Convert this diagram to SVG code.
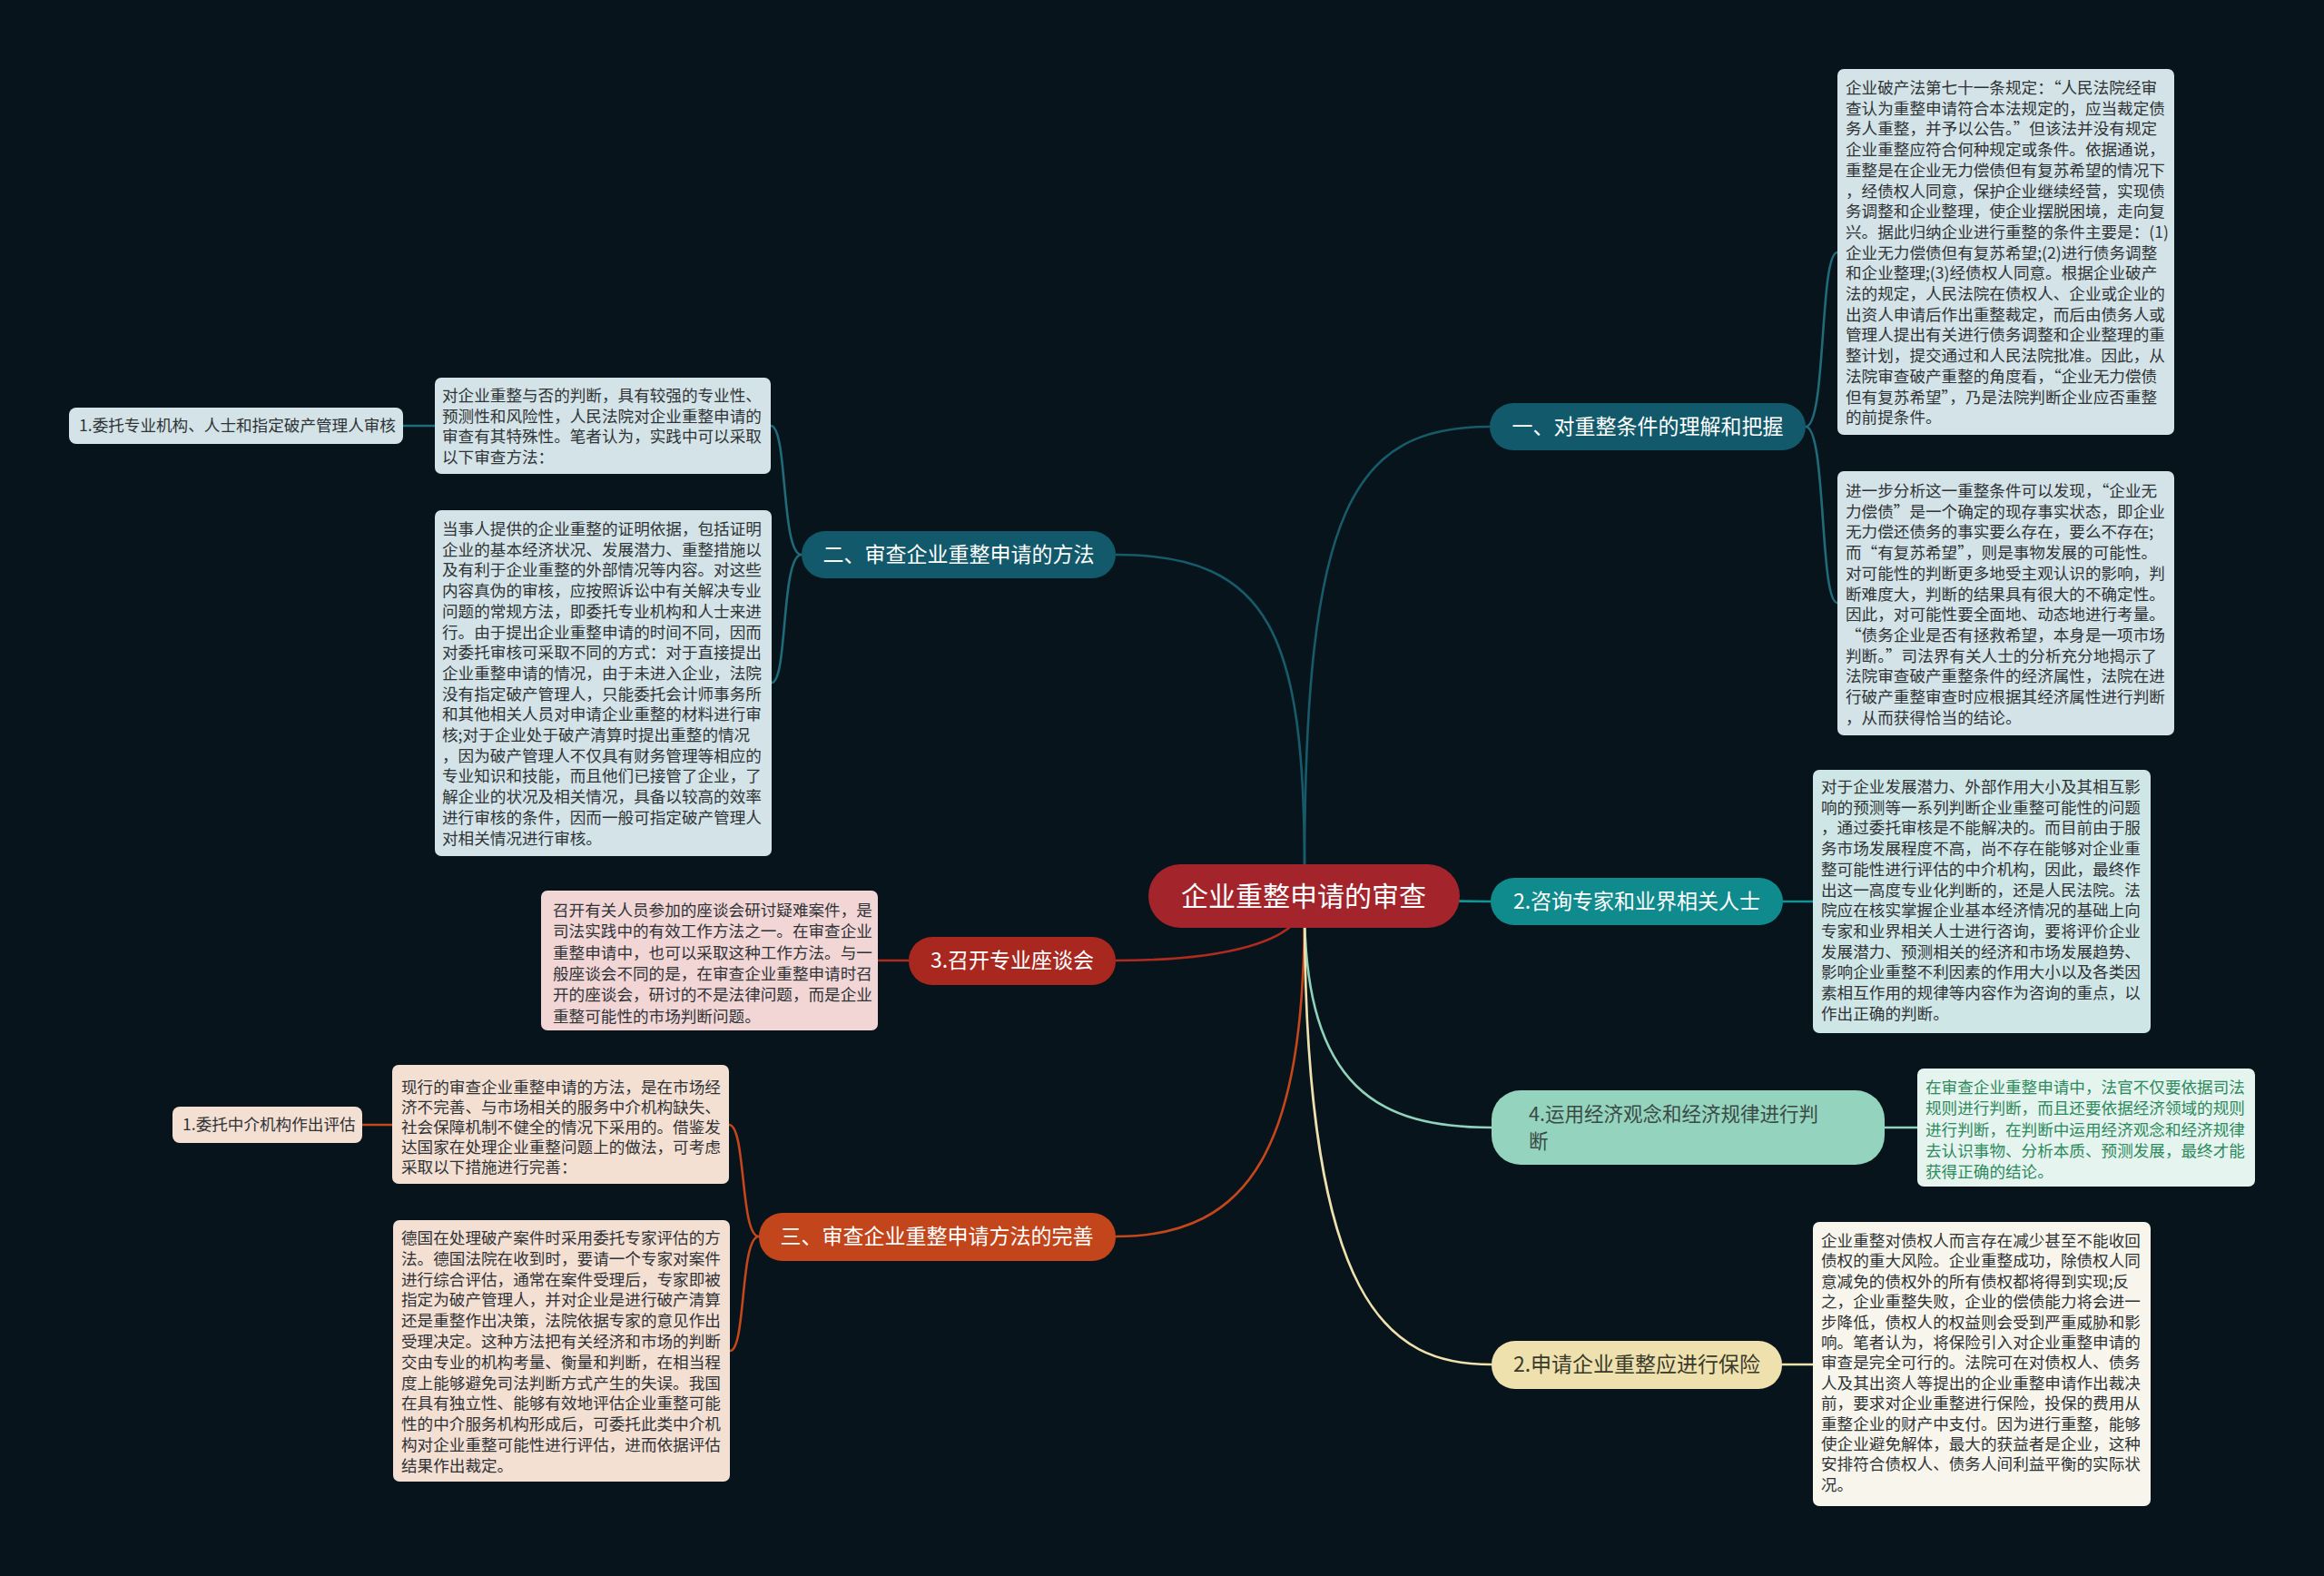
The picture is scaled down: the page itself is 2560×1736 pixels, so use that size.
<svg xmlns="http://www.w3.org/2000/svg" width="2560" height="1736" viewBox="0 0 2560 1736">
<style>
text{font-family:"Noto Sans CJK SC","Noto Sans",sans-serif}
.t{font-size:17.6px;fill:#2f3336}
.b{font-size:23px;fill:#ffffff;text-anchor:middle}
.c{fill:none;stroke-width:2.6}
</style>
<rect x="0" y="0" width="2560" height="1736" fill="#08141b"/>
<g id="connectors">
<path class="c" stroke="#175b6b" d="M1437,960 C1437,560 1490,470 1641,470"/>
<path class="c" stroke="#175b6b" d="M1437,960 C1437,700 1400,611 1229,611"/>
<path class="c" stroke="#139394" d="M1437,987 C1540,987 1540,993 1643,993"/>
<path class="c" stroke="#b02a20" d="M1437,990 C1437,1040 1340,1058 1229,1058"/>
<path class="c" stroke="#c4461b" d="M1437,1000 C1437,1260 1380,1362 1229,1362"/>
<path class="c" stroke="#8fd3bc" d="M1437,1000 C1437,1200 1520,1242 1643,1242"/>
<path class="c" stroke="#efe1ae" d="M1437,1000 C1437,1440 1530,1503 1643,1503"/>
<path class="c" stroke="#1f6b7a" d="M1989,470 C2012,470 2004,278 2024,278"/>
<path class="c" stroke="#1f6b7a" d="M1989,470 C2012,470 2004,664 2024,664"/>
<path class="c" stroke="#1f6b7a" d="M883,611 C860,611 868,469 849,469"/>
<path class="c" stroke="#1f6b7a" d="M883,611 C860,611 868,752 850,752"/>
<path class="c" stroke="#1f6b7a" d="M479,469 L444,469"/>
<path class="c" stroke="#139394" d="M1963,993 L1997,993"/>
<path class="c" stroke="#8fd3bc" d="M2076,1242 L2112,1242"/>
<path class="c" stroke="#efe1ae" d="M1963,1503 L1997,1503"/>
<path class="c" stroke="#b02a20" d="M1001,1058 L967,1058"/>
<path class="c" stroke="#c4461b" d="M836,1362 C815,1362 822,1239 803,1239"/>
<path class="c" stroke="#c4461b" d="M836,1362 C815,1362 822,1488 804,1488"/>
<path class="c" stroke="#c4461b" d="M432,1239 L399,1239"/>
</g>
<g id="root">
<rect x="1265" y="952" width="343" height="70" rx="35" fill="#a3242a"/>
<text x="1436" y="998" style="font-size:30px;fill:#fff;text-anchor:middle">企业重整申请的审查</text>
</g>
<g id="b1">
<rect x="1641" y="444" width="348" height="52" rx="26" fill="#12596b"/>
<text class="b" x="1815" y="478">一、对重整条件的理解和把握</text>
</g>
<g id="b2">
<rect x="883" y="585" width="346" height="52" rx="26" fill="#12596b"/>
<text class="b" x="1056" y="619">二、审查企业重整申请的方法</text>
</g>
<g id="b3">
<rect x="1642" y="967" width="322" height="52" rx="26" fill="#0f8b8d"/>
<text class="b" x="1803" y="1001">2.咨询专家和业界相关人士</text>
</g>
<g id="b4">
<rect x="1001" y="1032" width="228" height="53" rx="26" fill="#a8281f"/>
<text class="b" x="1115" y="1066">3.召开专业座谈会</text>
</g>
<g id="b5">
<rect x="836" y="1336" width="393" height="53" rx="26" fill="#c2451b"/>
<text class="b" x="1032" y="1370">三、审查企业重整申请方法的完善</text>
</g>
<g id="b6">
<rect x="1643" y="1201" width="433" height="82" rx="32" fill="#94d4bf"/>
<text style="font-size:21.5px;fill:#3b4a44"><tspan x="1684" y="1235">4.运用经济观念和经济规律进行判</tspan><tspan x="1684" y="1265">断</tspan></text>
</g>
<g id="b7">
<rect x="1643" y="1477" width="320" height="53" rx="26" fill="#efe1ae"/>
<text class="b" x="1803" y="1511" style="fill:#3a3a2c">2.申请企业重整应进行保险</text>
</g>
<g id="n1">
<rect x="2024" y="76" width="371" height="403" rx="7" fill="#d3e3e7"/>
<text class="t"><tspan x="2033" y="103">企业破产法第七十一条规定：“人民法院经审</tspan><tspan x="2033" dy="22.7">查认为重整申请符合本法规定的，应当裁定债</tspan><tspan x="2033" dy="22.7">务人重整，并予以公告。”但该法并没有规定</tspan><tspan x="2033" dy="22.7">企业重整应符合何种规定或条件。依据通说，</tspan><tspan x="2033" dy="22.7">重整是在企业无力偿债但有复苏希望的情况下</tspan><tspan x="2033" dy="22.7">，经债权人同意，保护企业继续经营，实现债</tspan><tspan x="2033" dy="22.7">务调整和企业整理，使企业摆脱困境，走向复</tspan><tspan x="2033" dy="22.7">兴。据此归纳企业进行重整的条件主要是：(1)</tspan><tspan x="2033" dy="22.7">企业无力偿债但有复苏希望;(2)进行债务调整</tspan><tspan x="2033" dy="22.7">和企业整理;(3)经债权人同意。根据企业破产</tspan><tspan x="2033" dy="22.7">法的规定，人民法院在债权人、企业或企业的</tspan><tspan x="2033" dy="22.7">出资人申请后作出重整裁定，而后由债务人或</tspan><tspan x="2033" dy="22.7">管理人提出有关进行债务调整和企业整理的重</tspan><tspan x="2033" dy="22.7">整计划，提交通过和人民法院批准。因此，从</tspan><tspan x="2033" dy="22.7">法院审查破产重整的角度看，“企业无力偿债</tspan><tspan x="2033" dy="22.7">但有复苏希望”，乃是法院判断企业应否重整</tspan><tspan x="2033" dy="22.7">的前提条件。</tspan></text>
</g>
<g id="n2">
<rect x="2024" y="519" width="371" height="291" rx="7" fill="#d3e3e7"/>
<text class="t"><tspan x="2033" y="547">进一步分析这一重整条件可以发现，“企业无</tspan><tspan x="2033" dy="22.7">力偿债”是一个确定的现存事实状态，即企业</tspan><tspan x="2033" dy="22.7">无力偿还债务的事实要么存在，要么不存在;</tspan><tspan x="2033" dy="22.7">而“有复苏希望”，则是事物发展的可能性。</tspan><tspan x="2033" dy="22.7">对可能性的判断更多地受主观认识的影响，判</tspan><tspan x="2033" dy="22.7">断难度大，判断的结果具有很大的不确定性。</tspan><tspan x="2033" dy="22.7">因此，对可能性要全面地、动态地进行考量。</tspan><tspan x="2033" dy="22.7">“债务企业是否有拯救希望，本身是一项市场</tspan><tspan x="2033" dy="22.7">判断。”司法界有关人士的分析充分地揭示了</tspan><tspan x="2033" dy="22.7">法院审查破产重整条件的经济属性，法院在进</tspan><tspan x="2033" dy="22.7">行破产重整审查时应根据其经济属性进行判断</tspan><tspan x="2033" dy="22.7">，从而获得恰当的结论。</tspan></text>
</g>
<g id="n3">
<rect x="1997" y="848" width="372" height="290" rx="7" fill="#cfe6e6"/>
<text class="t"><tspan x="2006" y="873">对于企业发展潜力、外部作用大小及其相互影</tspan><tspan x="2006" dy="22.7">响的预测等一系列判断企业重整可能性的问题</tspan><tspan x="2006" dy="22.7">，通过委托审核是不能解决的。而目前由于服</tspan><tspan x="2006" dy="22.7">务市场发展程度不高，尚不存在能够对企业重</tspan><tspan x="2006" dy="22.7">整可能性进行评估的中介机构，因此，最终作</tspan><tspan x="2006" dy="22.7">出这一高度专业化判断的，还是人民法院。法</tspan><tspan x="2006" dy="22.7">院应在核实掌握企业基本经济情况的基础上向</tspan><tspan x="2006" dy="22.7">专家和业界相关人士进行咨询，要将评价企业</tspan><tspan x="2006" dy="22.7">发展潜力、预测相关的经济和市场发展趋势、</tspan><tspan x="2006" dy="22.7">影响企业重整不利因素的作用大小以及各类因</tspan><tspan x="2006" dy="22.7">素相互作用的规律等内容作为咨询的重点，以</tspan><tspan x="2006" dy="22.7">作出正确的判断。</tspan></text>
</g>
<g id="n4">
<rect x="2112" y="1177" width="372" height="130" rx="7" fill="#e5f4ef"/>
<text class="t" style="fill:#2d8a5c"><tspan x="2121" y="1204">在审查企业重整申请中，法官不仅要依据司法</tspan><tspan x="2121" dy="23.3">规则进行判断，而且还要依据经济领域的规则</tspan><tspan x="2121" dy="23.3">进行判断，在判断中运用经济观念和经济规律</tspan><tspan x="2121" dy="23.3">去认识事物、分析本质、预测发展，最终才能</tspan><tspan x="2121" dy="23.3">获得正确的结论。</tspan></text>
</g>
<g id="n5">
<rect x="1997" y="1346" width="372" height="313" rx="7" fill="#f8f6ec"/>
<text class="t"><tspan x="2006" y="1373">企业重整对债权人而言存在减少甚至不能收回</tspan><tspan x="2006" dy="22.4">债权的重大风险。企业重整成功，除债权人同</tspan><tspan x="2006" dy="22.4">意减免的债权外的所有债权都将得到实现;反</tspan><tspan x="2006" dy="22.4">之，企业重整失败，企业的偿债能力将会进一</tspan><tspan x="2006" dy="22.4">步降低，债权人的权益则会受到严重威胁和影</tspan><tspan x="2006" dy="22.4">响。笔者认为，将保险引入对企业重整申请的</tspan><tspan x="2006" dy="22.4">审查是完全可行的。法院可在对债权人、债务</tspan><tspan x="2006" dy="22.4">人及其出资人等提出的企业重整申请作出裁决</tspan><tspan x="2006" dy="22.4">前，要求对企业重整进行保险，投保的费用从</tspan><tspan x="2006" dy="22.4">重整企业的财产中支付。因为进行重整，能够</tspan><tspan x="2006" dy="22.4">使企业避免解体，最大的获益者是企业，这种</tspan><tspan x="2006" dy="22.4">安排符合债权人、债务人间利益平衡的实际状</tspan><tspan x="2006" dy="22.4">况。</tspan></text>
</g>
<g id="n6">
<rect x="479" y="416" width="370" height="106" rx="7" fill="#d3e3e7"/>
<text class="t"><tspan x="487" y="442">对企业重整与否的判断，具有较强的专业性、</tspan><tspan x="487" dy="22.7">预测性和风险性，人民法院对企业重整申请的</tspan><tspan x="487" dy="22.7">审查有其特殊性。笔者认为，实践中可以采取</tspan><tspan x="487" dy="22.7">以下审查方法：</tspan></text>
</g>
<g id="n7">
<rect x="76" y="449" width="368" height="40" rx="8" fill="#d3e3e7"/>
<text class="t" x="87" y="475">1.委托专业机构、人士和指定破产管理人审核</text>
</g>
<g id="n8">
<rect x="479" y="562" width="371" height="381" rx="7" fill="#d3e3e7"/>
<text class="t"><tspan x="487" y="589">当事人提供的企业重整的证明依据，包括证明</tspan><tspan x="487" dy="22.7">企业的基本经济状况、发展潜力、重整措施以</tspan><tspan x="487" dy="22.7">及有利于企业重整的外部情况等内容。对这些</tspan><tspan x="487" dy="22.7">内容真伪的审核，应按照诉讼中有关解决专业</tspan><tspan x="487" dy="22.7">问题的常规方法，即委托专业机构和人士来进</tspan><tspan x="487" dy="22.7">行。由于提出企业重整申请的时间不同，因而</tspan><tspan x="487" dy="22.7">对委托审核可采取不同的方式：对于直接提出</tspan><tspan x="487" dy="22.7">企业重整申请的情况，由于未进入企业，法院</tspan><tspan x="487" dy="22.7">没有指定破产管理人，只能委托会计师事务所</tspan><tspan x="487" dy="22.7">和其他相关人员对申请企业重整的材料进行审</tspan><tspan x="487" dy="22.7">核;对于企业处于破产清算时提出重整的情况</tspan><tspan x="487" dy="22.7">，因为破产管理人不仅具有财务管理等相应的</tspan><tspan x="487" dy="22.7">专业知识和技能，而且他们已接管了企业，了</tspan><tspan x="487" dy="22.7">解企业的状况及相关情况，具备以较高的效率</tspan><tspan x="487" dy="22.7">进行审核的条件，因而一般可指定破产管理人</tspan><tspan x="487" dy="22.7">对相关情况进行审核。</tspan></text>
</g>
<g id="n9">
<rect x="596" y="981" width="371" height="154" rx="7" fill="#f2d6d6"/>
<text class="t"><tspan x="609" y="1009">召开有关人员参加的座谈会研讨疑难案件，是</tspan><tspan x="609" dy="23.3">司法实践中的有效工作方法之一。在审查企业</tspan><tspan x="609" dy="23.3">重整申请中，也可以采取这种工作方法。与一</tspan><tspan x="609" dy="23.3">般座谈会不同的是，在审查企业重整申请时召</tspan><tspan x="609" dy="23.3">开的座谈会，研讨的不是法律问题，而是企业</tspan><tspan x="609" dy="23.3">重整可能性的市场判断问题。</tspan></text>
</g>
<g id="n10">
<rect x="432" y="1173" width="371" height="131" rx="7" fill="#f4dfd3"/>
<text class="t"><tspan x="442" y="1204">现行的审查企业重整申请的方法，是在市场经</tspan><tspan x="442" dy="22">济不完善、与市场相关的服务中介机构缺失、</tspan><tspan x="442" dy="22">社会保障机制不健全的情况下采用的。借鉴发</tspan><tspan x="442" dy="22">达国家在处理企业重整问题上的做法，可考虑</tspan><tspan x="442" dy="22">采取以下措施进行完善：</tspan></text>
</g>
<g id="n11">
<rect x="190" y="1219" width="209" height="40" rx="8" fill="#f4dfd3"/>
<text class="t" x="201" y="1245">1.委托中介机构作出评估</text>
</g>
<g id="n12">
<rect x="433" y="1344" width="371" height="288" rx="7" fill="#f4dfd3"/>
<text class="t"><tspan x="442" y="1370">德国在处理破产案件时采用委托专家评估的方</tspan><tspan x="442" dy="22.8">法。德国法院在收到时，要请一个专家对案件</tspan><tspan x="442" dy="22.8">进行综合评估，通常在案件受理后，专家即被</tspan><tspan x="442" dy="22.8">指定为破产管理人，并对企业是进行破产清算</tspan><tspan x="442" dy="22.8">还是重整作出决策，法院依据专家的意见作出</tspan><tspan x="442" dy="22.8">受理决定。这种方法把有关经济和市场的判断</tspan><tspan x="442" dy="22.8">交由专业的机构考量、衡量和判断，在相当程</tspan><tspan x="442" dy="22.8">度上能够避免司法判断方式产生的失误。我国</tspan><tspan x="442" dy="22.8">在具有独立性、能够有效地评估企业重整可能</tspan><tspan x="442" dy="22.8">性的中介服务机构形成后，可委托此类中介机</tspan><tspan x="442" dy="22.8">构对企业重整可能性进行评估，进而依据评估</tspan><tspan x="442" dy="22.8">结果作出裁定。</tspan></text>
</g>
</svg>
